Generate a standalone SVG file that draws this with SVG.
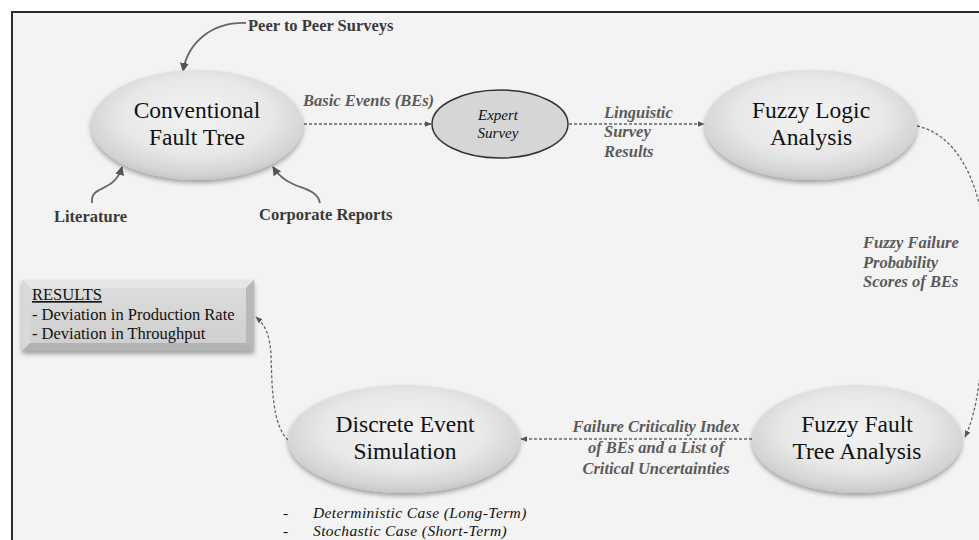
<svg xmlns="http://www.w3.org/2000/svg" width="979" height="540" viewBox="0 0 979 540">
  <defs>
    <radialGradient id="nodeFill" cx="50%" cy="42%" r="58%">
      <stop offset="0" stop-color="#f3f3f3"/>
      <stop offset="0.6" stop-color="#e8e8e8"/>
      <stop offset="0.9" stop-color="#d4d4d4"/>
      <stop offset="1" stop-color="#c6c6c6"/>
    </radialGradient>
    <linearGradient id="boxFace" x1="0" y1="0" x2="0" y2="1">
      <stop offset="0" stop-color="#dcdcdc"/>
      <stop offset="1" stop-color="#cfcfcf"/>
    </linearGradient>
    <filter id="softShadow" x="-10%" y="-10%" width="120%" height="130%">
      <feGaussianBlur in="SourceAlpha" stdDeviation="2.5"/>
      <feOffset dx="0" dy="3" result="blur"/>
      <feComponentTransfer><feFuncA type="linear" slope="0.35"/></feComponentTransfer>
      <feMerge><feMergeNode/><feMergeNode in="SourceGraphic"/></feMerge>
    </filter>
    <marker id="arrowDash" viewBox="0 0 10 10" refX="9" refY="5" markerWidth="7" markerHeight="7" orient="auto" markerUnits="userSpaceOnUse">
      <path d="M0,1 L10,5 L0,9 z" fill="#555"/>
    </marker>
    <marker id="arrowSolid" viewBox="0 0 10 10" refX="9" refY="5" markerWidth="9" markerHeight="9" orient="auto" markerUnits="userSpaceOnUse">
      <path d="M0,0 L10,5 L0,10 z" fill="#555"/>
    </marker>
    <style>
      text { font-family: "Liberation Serif", "DejaVu Serif", "Times New Roman", serif; }
      .node { fill: url(#nodeFill); filter: url(#softShadow); }
      .nodeText { font-size: 23.5px; fill: #111; text-anchor: middle; }
      .source { font-size: 16.5px; font-weight: bold; fill: #3a3a3a; }
      .flowLabel { font-size: 16.5px; font-weight: bold; font-style: italic; fill: #5a5a5a; }
      .dash { fill: none; stroke: #666; stroke-width: 1.3; stroke-dasharray: 3 2; marker-end: url(#arrowDash); }
      .solid { fill: none; stroke: #666; stroke-width: 1.8; marker-end: url(#arrowSolid); }
      .plain { font-size: 16.5px; fill: #111; }
      .caseText { font-size: 15.5px; font-style: italic; fill: #111; letter-spacing: 0.4px; }
      .expertText { font-size: 15px; font-style: italic; fill: #111; text-anchor: middle; }
    </style>
  </defs>

  <!-- page and frame -->
  <rect x="0" y="0" width="979" height="540" fill="#ffffff"/>
  <rect x="12" y="12" width="1000" height="600" fill="#f3f3f3" stroke="#2a2a2a" stroke-width="2"/>

  <!-- connectors -->
  <g id="connectors">
    <path class="solid" d="M246,23 C212,22 188,42 183,71"/>
    <path class="solid" d="M92,203 C90,184 114,194 122,167"/>
    <path class="solid" d="M320,203 C316,184 289,192 273,167"/>
    <path class="dash" d="M304,124 L431,124"/>
    <path class="dash" d="M569,124 L704,124"/>
    <path class="dash" d="M917,126 C972,138 992,220 986,300 C982,370 978,410 965,437"/>
    <path class="dash" d="M752,439 L521,439"/>
    <path class="dash" d="M288,440 C272,425 272,385 271,355 C270,336 266,326 256,317"/>
  </g>

  <!-- input sources -->
  <g id="peer-surveys"><text class="source" x="248" y="31">Peer to Peer Surveys</text></g>
  <g id="literature"><text class="source" x="54" y="222">Literature</text></g>
  <g id="corporate-reports"><text class="source" x="259" y="220">Corporate Reports</text></g>

  <!-- main nodes -->
  <g id="conventional-fault-tree">
    <ellipse class="node" cx="197" cy="125" rx="106" ry="55"/>
    <text class="nodeText" x="197" y="118">Conventional</text>
    <text class="nodeText" x="197" y="145">Fault Tree</text>
  </g>

  <g id="expert-survey">
    <ellipse cx="500" cy="124" rx="68" ry="34" fill="#d6d6d6" stroke="#333" stroke-width="1.5"/>
    <text class="expertText" x="498" y="120">Expert</text>
    <text class="expertText" x="498" y="138">Survey</text>
  </g>

  <g id="fuzzy-logic-analysis">
    <ellipse class="node" cx="811" cy="125" rx="106" ry="55"/>
    <text class="nodeText" x="811" y="118">Fuzzy Logic</text>
    <text class="nodeText" x="811" y="145">Analysis</text>
  </g>

  <g id="fuzzy-fault-tree-analysis">
    <ellipse class="node" cx="857" cy="439" rx="105" ry="54"/>
    <text class="nodeText" x="857" y="432">Fuzzy Fault</text>
    <text class="nodeText" x="857" y="459">Tree Analysis</text>
  </g>

  <g id="discrete-event-simulation">
    <ellipse class="node" cx="404" cy="439" rx="116" ry="54"/>
    <text class="nodeText" x="405" y="432">Discrete Event</text>
    <text class="nodeText" x="405" y="459">Simulation</text>
  </g>

  <!-- flow labels -->
  <g id="label-basic-events"><text class="flowLabel" x="303" y="106">Basic Events (BEs)</text></g>
  <g id="label-linguistic">
    <text class="flowLabel" x="604" y="118">Linguistic</text>
    <text class="flowLabel" x="604" y="137">Survey</text>
    <text class="flowLabel" x="604" y="157">Results</text>
  </g>
  <g id="label-fuzzy-failure">
    <text class="flowLabel" x="863" y="248">Fuzzy Failure</text>
    <text class="flowLabel" x="863" y="268">Probability</text>
    <text class="flowLabel" x="863" y="287">Scores of BEs</text>
  </g>
  <g id="label-criticality">
    <text class="flowLabel" x="656" y="432" text-anchor="middle">Failure Criticality Index</text>
    <text class="flowLabel" x="656" y="453" text-anchor="middle">of BEs and a List of</text>
    <text class="flowLabel" x="656" y="474" text-anchor="middle">Critical Uncertainties</text>
  </g>

  <!-- results box with bevel -->
  <g id="results" filter="url(#softShadow)">
    <rect x="22" y="280" width="232" height="71" fill="#c9c9c9"/>
    <polygon points="22,280 254,280 246,288 30,288" fill="#e6e6e6"/>
    <polygon points="22,280 30,288 30,343 22,351" fill="#d9d9d9"/>
    <polygon points="254,280 254,351 246,343 246,288" fill="#b8b8b8"/>
    <polygon points="22,351 30,343 246,343 254,351" fill="#b2b2b2"/>
    <rect x="30" y="288" width="216" height="55" fill="url(#boxFace)"/>
  </g>
  <g id="results-text">
    <text class="plain" x="32" y="300" text-decoration="underline">RESULTS</text>
    <text class="plain" x="32" y="320">- Deviation in Production Rate</text>
    <text class="plain" x="32" y="339">- Deviation in Throughput</text>
  </g>

  <!-- simulation cases -->
  <g id="simulation-cases">
    <text class="caseText" x="283" y="518" font-style="normal">-</text>
    <text class="caseText" x="313" y="518">Deterministic Case (Long-Term)</text>
    <text class="caseText" x="283" y="536" font-style="normal">-</text>
    <text class="caseText" x="313" y="536">Stochastic Case (Short-Term)</text>
  </g>
</svg>
